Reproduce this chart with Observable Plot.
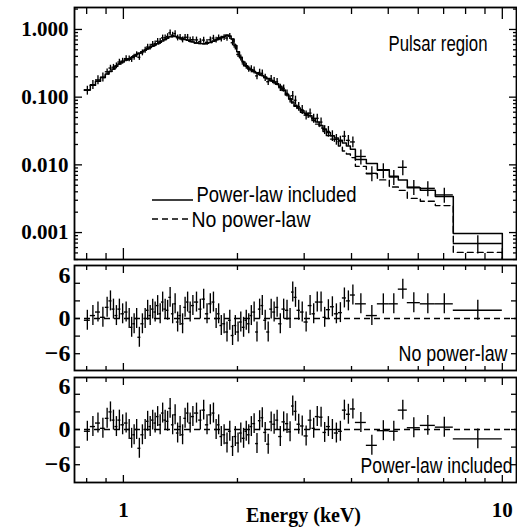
<!DOCTYPE html>
<html><head><meta charset="utf-8">
<script src="https://cdn.jsdelivr.net/npm/d3@7"></script>
<script src="https://cdn.jsdelivr.net/npm/@observablehq/plot@0.6"></script>
<style>
body{margin:0;background:#fff;}
#chart{position:relative;width:517px;height:532px;overflow:hidden;background:#fff;}
#chart svg{position:absolute;left:0;overflow:visible;background:transparent;}
</style></head><body><div id="chart"></div>
<script>
// ---- data ----
const binEdges = [
  0.789, 0.818, 0.844, 0.870, 0.896, 0.916, 0.933, 0.950, 0.967, 0.985,
  1.006, 1.028, 1.044, 1.059, 1.076, 1.092, 1.112, 1.133, 1.150, 1.168,
  1.186, 1.204, 1.222, 1.241, 1.260, 1.279, 1.299, 1.318, 1.339, 1.359,
  1.380, 1.401, 1.422, 1.444, 1.466, 1.489, 1.512, 1.539, 1.580, 1.612,
  1.646, 1.679, 1.713, 1.744, 1.770, 1.798, 1.828, 1.861, 1.893, 1.925,
  1.958, 1.991, 2.024, 2.058, 2.094, 2.126, 2.158, 2.194, 2.233, 2.271,
  2.306, 2.346, 2.389, 2.433, 2.477, 2.522, 2.569, 2.621, 2.676, 2.730,
  2.777, 2.820, 2.872, 2.932, 2.998, 3.074, 3.146, 3.211, 3.286, 3.363,
  3.433, 3.518, 3.604, 3.693, 3.784, 3.877, 3.972, 4.095, 4.377, 4.680,
  5.032, 5.315, 5.614, 6.076, 6.656, 7.424, 10.0
];
const flux = [
  0.126, 0.153, 0.180, 0.197, 0.237, 0.269, 0.277, 0.291, 0.330, 0.341,
  0.371, 0.370, 0.362, 0.390, 0.425, 0.388, 0.453, 0.495, 0.549, 0.551,
  0.601, 0.616, 0.669, 0.666, 0.751, 0.755, 0.787, 0.892, 0.826, 0.869,
  0.752, 0.765, 0.704, 0.764, 0.767, 0.699, 0.707, 0.701, 0.660, 0.696,
  0.645, 0.704, 0.745, 0.700, 0.753, 0.724, 0.762, 0.745, 0.790, 0.636,
  0.552, 0.427, 0.381, 0.310, 0.287, 0.260, 0.260, 0.250, 0.206, 0.231,
  0.225, 0.194, 0.169, 0.187, 0.174, 0.168, 0.138, 0.135, 0.114, 0.0935,
  0.105, 0.090, 0.0727, 0.0653, 0.0542, 0.0581, 0.0486, 0.0487, 0.0428, 0.0330,
  0.0312, 0.0270, 0.0238, 0.0224, 0.0265, 0.0230, 0.0218, 0.0133, 0.0075, 0.0083,
  0.0066, 0.0092, 0.0047, 0.0045, 0.0036, 0.00069
];
const fluxRelErr = [
  0.15, 0.15, 0.15, 0.15, 0.10, 0.10, 0.10, 0.10, 0.10, 0.10,
  0.10, 0.10, 0.10, 0.10, 0.10, 0.10, 0.10, 0.10, 0.10, 0.10,
  0.10, 0.10, 0.10, 0.10, 0.10, 0.10, 0.10, 0.10, 0.10, 0.10,
  0.10, 0.10, 0.10, 0.10, 0.10, 0.10, 0.10, 0.10, 0.10, 0.10,
  0.10, 0.10, 0.10, 0.10, 0.10, 0.10, 0.10, 0.10, 0.10, 0.10,
  0.10, 0.10, 0.10, 0.10, 0.10, 0.10, 0.12, 0.12, 0.12, 0.12,
  0.12, 0.12, 0.12, 0.12, 0.12, 0.12, 0.12, 0.12, 0.12, 0.12,
  0.15, 0.15, 0.15, 0.15, 0.15, 0.15, 0.15, 0.15, 0.15, 0.15,
  0.18, 0.18, 0.18, 0.18, 0.18, 0.18, 0.18, 0.25, 0.25, 0.25,
  0.25, 0.25, 0.25, 0.25, 0.25, 0.30
];
const modelPL = [
  0.128, 0.150, 0.172, 0.195, 0.220, 0.240, 0.260, 0.285, 0.310, 0.330,
  0.355, 0.370, 0.385, 0.405, 0.425, 0.445, 0.470, 0.495, 0.520, 0.540,
  0.565, 0.590, 0.615, 0.645, 0.675, 0.710, 0.745, 0.780, 0.800, 0.790,
  0.770, 0.750, 0.730, 0.710, 0.690, 0.670, 0.650, 0.630, 0.620, 0.615,
  0.625, 0.640, 0.670, 0.700, 0.730, 0.760, 0.790, 0.820, 0.800, 0.720,
  0.580, 0.470, 0.390, 0.330, 0.290, 0.270, 0.255, 0.240, 0.228, 0.218,
  0.208, 0.198, 0.188, 0.178, 0.168, 0.158, 0.145, 0.128, 0.110, 0.095,
  0.085, 0.076, 0.069, 0.063, 0.058, 0.053, 0.048, 0.043, 0.038, 0.034,
  0.030, 0.027, 0.025, 0.023, 0.021, 0.019, 0.017, 0.0120, 0.0105, 0.0085,
  0.0068, 0.0060, 0.0046, 0.0042, 0.0034, 0.00097
];
const modelNoPL = [
  0.128, 0.150, 0.172, 0.195, 0.220, 0.240, 0.260, 0.285, 0.310, 0.330,
  0.355, 0.370, 0.385, 0.405, 0.425, 0.445, 0.470, 0.495, 0.520, 0.540,
  0.565, 0.590, 0.615, 0.645, 0.675, 0.710, 0.745, 0.780, 0.800, 0.790,
  0.770, 0.750, 0.730, 0.710, 0.690, 0.670, 0.650, 0.630, 0.620, 0.615,
  0.625, 0.640, 0.670, 0.700, 0.730, 0.760, 0.790, 0.820, 0.800, 0.720,
  0.580, 0.470, 0.390, 0.330, 0.290, 0.270, 0.253, 0.238, 0.226, 0.216,
  0.206, 0.195, 0.185, 0.175, 0.165, 0.155, 0.142, 0.125, 0.107, 0.092,
  0.082, 0.073, 0.066, 0.060, 0.055, 0.050, 0.045, 0.040, 0.035, 0.031,
  0.027, 0.024, 0.022, 0.019, 0.016, 0.0145, 0.0128, 0.0095, 0.0074, 0.0060,
  0.0047, 0.0042, 0.0032, 0.0029, 0.0025, 0.00051
];
const residNoPL = [
  -0.3, 0.5, 1.1, 0.2, 1.9, 3.0, 1.6, 0.5, 1.6, 0.8,
  1.1, 0.0, -1.5, -0.9, 0.0, -3.2, -0.9, 0.0, 1.4, 0.5,
  1.6, 1.1, 2.2, 0.8, 2.8, 1.6, 1.4, 3.6, 0.8, 2.5,
  -0.6, 0.5, -0.9, 1.9, 2.8, 1.1, 2.2, 2.8, 1.6, 3.3,
  0.8, 2.5, 2.8, 0.0, 0.8, -1.2, -0.9, -2.3, -0.3, -2.9,
  -1.2, -2.3, -0.6, -1.5, -0.3, -0.9, 0.5, 1.1, -2.3, 1.6,
  2.2, -0.3, -2.3, 1.6, 1.1, 1.9, -0.9, 1.6, 1.4, 0.0,
  4.5, 3.6, 1.4, 1.1, -0.6, 2.2, 0.8, 2.8, 2.8, 0.2,
  1.5, 2.0, 0.8, 1.0, 3.5, 3.0, 4.0, 2.5, 0.5, 2.5,
  2.5, 5.0, 2.7, 2.5, 2.5, 1.4
];
const residPL = [
  -0.3, 0.5, 1.1, 0.2, 1.9, 3.0, 1.6, 0.5, 1.6, 0.8,
  1.1, 0.0, -1.5, -0.9, 0.0, -3.2, -0.9, 0.0, 1.4, 0.5,
  1.6, 1.1, 2.2, 0.8, 2.8, 1.6, 1.4, 3.6, 0.8, 2.5,
  -0.6, 0.5, -0.9, 1.9, 2.8, 1.1, 2.2, 2.8, 1.6, 3.3,
  0.8, 2.5, 2.8, 0.0, 0.8, -1.2, -0.9, -2.3, -0.3, -2.9,
  -1.2, -2.3, -0.6, -1.5, -0.3, -0.9, 0.5, 1.0, -2.4, 1.5,
  2.0, -0.5, -2.5, 1.3, 0.9, 1.6, -1.2, 1.3, 1.0, -0.4,
  4.0, 3.1, 0.9, 0.6, -1.1, 1.6, 0.2, 2.2, 2.1, -0.5,
  0.5, 0.0, -0.6, -0.3, 3.3, 2.6, 3.5, 1.2, -2.7, -0.2,
  -0.3, 3.3, 0.3, 0.7, 0.4, -1.6
];
const residErr = 1.7;
const fluxTicks = [1, 0.1, 0.01, 0.001];
const residTicks = [6, 3, 0, -3, -6];
const residLabels = [0, -6];
const residTopLabel = [6];
const energyTicks = [1, 10];
const panelTitle = "Pulsar region";
const legendPL = "Power-law included";
const legendNoPL = "No power-law";
const xTitle = "Energy (keV)";

// ---- build ----
const bins = flux.map((v, i) => {
  const lo = binEdges[i], hi = binEdges[i + 1];
  return {lo, hi, e: Math.sqrt(lo * hi), flux: v, rel: fluxRelErr[i],
          rNo: residNoPL[i], rPl: residPL[i]};
});
function steps(values) {
  const pts = bins.map((b, i) => ({x: b.lo, y: values[i]}));
  const last = bins[bins.length - 1];
  pts.push({x: last.hi, y: values[values.length - 1]});
  pts.push({x: last.hi, y: 1e-7});
  return pts;
}
const isPow10 = v => Math.abs(Math.log10(v) - Math.round(Math.log10(v))) < 1e-6;
const xDomain = [0.743, 10.9];
const fluxDomain = [0.0004, 2.11];
const eMinor = d3.scaleLog().domain(xDomain).ticks().filter(v => !isPow10(v));
const fluxMinor = d3.scaleLog().domain(fluxDomain).ticks().filter(v => !isPow10(v));

const serif = "'Liberation Serif', 'Times New Roman', serif";
const sans = "'Liberation Sans Narrow', 'Liberation Sans', Arial, sans-serif";
const W = 517, ML = 74, MR = 1;
const SW = 1.35;

const tx = (anchor, ticks, size) => Plot.axisX({anchor, ticks, tickSize: -size, tickFormat: () => "", label: null, strokeWidth: 1.3});
const ty = (anchor, ticks, size) => Plot.axisY({anchor, ticks, tickSize: -size, tickFormat: () => "", label: null, strokeWidth: 1.3});
const fmtRes = d => d < 0 ? "\u2212" + Math.abs(d) : String(d);

// condense the sans labels horizontally (the reference uses a condensed face)
function narrow(svg, widths) {
  svg.querySelectorAll("text").forEach(t => {
    const w = widths[t.textContent];
    if (!w) return;
    const natural = t.getComputedTextLength();
    if (!natural) return;
    const s = w / natural;
    const tr = t.getAttribute("transform") || "";
    t.setAttribute("transform", tr + ` scale(${s.toFixed(4)},1)`);
  });
}

const topPlot = Plot.plot({
  width: W, height: 262, marginLeft: ML, marginRight: MR, marginTop: 7, marginBottom: 3,
  x: {type: "log", domain: xDomain, axis: null},
  y: {type: "log", domain: fluxDomain, axis: null},
  marks: [
    ty("left", fluxTicks, 8), ty("right", fluxTicks, 8),
    ty("left", fluxMinor, 4), ty("right", fluxMinor, 4),
    tx("bottom", energyTicks, 11), tx("top", energyTicks, 11),
    tx("bottom", eMinor, 6), tx("top", eMinor, 6),
    Plot.axisY({anchor: "left", ticks: fluxTicks, tickSize: 0, tickPadding: 6,
      tickFormat: d3.format(".3f"), label: null, fontSize: 21, fontWeight: "bold", fontFamily: serif}),
    Plot.line(steps(modelNoPL), {x: "x", y: "y", curve: "step-after", stroke: "black",
      strokeWidth: 1.4, strokeDasharray: "6,4", clip: true}),
    Plot.line(steps(modelPL), {x: "x", y: "y", curve: "step-after", stroke: "black",
      strokeWidth: 1.5, clip: true}),
    Plot.ruleY(bins, {x1: "lo", x2: "hi", y: "flux", strokeWidth: SW}),
    Plot.ruleX(bins, {x: "e", y1: d => d.flux * (1 - d.rel), y2: d => d.flux * (1 + d.rel), strokeWidth: SW}),
    Plot.text([panelTitle], {text: d => d, frameAnchor: "top-right", dx: -29, dy: 43,
      textAnchor: "end", lineAnchor: "bottom", fontSize: 22, fontFamily: sans}),
    Plot.text([legendPL], {text: d => d, frameAnchor: "top-left", dx: 122, dy: 194,
      textAnchor: "start", lineAnchor: "bottom", fontSize: 22, fontFamily: sans}),
    Plot.text([legendNoPL], {text: d => d, frameAnchor: "top-left", dx: 117, dy: 219,
      textAnchor: "start", lineAnchor: "bottom", fontSize: 22, fontFamily: sans}),
    Plot.frame({strokeWidth: 1.8})
  ]
});

function residPlot(key, yDomain, marginTop, marginBottom, height, label, labelDx, extra) {
  return Plot.plot({
    width: W, height, marginLeft: ML, marginRight: MR, marginTop, marginBottom,
    x: {type: "log", domain: xDomain, axis: null},
    y: {domain: yDomain, axis: null},
    marks: [
      ty("left", residTicks, 6), ty("right", residTicks, 6),
      tx("bottom", energyTicks, 7), tx("top", energyTicks, 7),
      tx("bottom", eMinor, 4), tx("top", eMinor, 4),
      Plot.axisY({anchor: "left", ticks: residLabels, tickSize: 0, tickPadding: 4,
        tickFormat: fmtRes, label: null, fontSize: 24, fontWeight: "bold", fontFamily: serif}),
      Plot.axisY({anchor: "left", ticks: residTopLabel, tickSize: 0, tickPadding: 4, dy: -8,
        tickFormat: fmtRes, label: null, fontSize: 24, fontWeight: "bold", fontFamily: serif}),
      Plot.ruleY([0], {strokeDasharray: "6,4", strokeWidth: 1.3}),
      Plot.ruleY(bins, {x1: "lo", x2: "hi", y: key, strokeWidth: SW}),
      Plot.ruleX(bins, {x: "e", y1: d => d[key] - residErr, y2: d => d[key] + residErr, strokeWidth: SW}),
      Plot.text([label], {text: d => d, frameAnchor: "bottom-right", dx: labelDx,
        dy: -10, textAnchor: "end", lineAnchor: "bottom", fontSize: 22, fontFamily: sans}),
      ...extra,
      Plot.frame({strokeWidth: 1.8})
    ]
  });
}

const midPlot = residPlot("rNo", [-8.86, 9.03], 3, 2, 110, legendNoPL, -9, []);
const botPlot = residPlot("rPl", [-9.03, 8.86], 5, 50, 160, legendPL, -4, [
  Plot.axisX({anchor: "bottom", ticks: energyTicks, tickSize: 0, tickPadding: 20,
    tickFormat: d => String(d), label: null, fontSize: 21, fontWeight: "bold", fontFamily: serif}),
  Plot.text([xTitle], {text: d => d, frameAnchor: "bottom", dx: 8, dy: 39,
    lineAnchor: "bottom", fontSize: 20, fontWeight: "bold", fontFamily: serif})
]);

// legend swatches
const ts = d3.select(topPlot);
ts.append("line").attr("x1", 152).attr("x2", 193).attr("y1", 200).attr("y2", 200)
  .attr("stroke", "black").attr("stroke-width", 1.5);
ts.append("line").attr("x1", 152).attr("x2", 188).attr("y1", 219).attr("y2", 219)
  .attr("stroke", "black").attr("stroke-width", 1.4).attr("stroke-dasharray", "6,4");

const chart = document.getElementById("chart");
[[topPlot, 0], [midPlot, 262], [botPlot, 372]].forEach(([svg, top]) => {
  svg.style.top = top + "px";
  chart.appendChild(svg);
});

narrow(topPlot, {[panelTitle]: 99, [legendPL]: 160, [legendNoPL]: 119});
narrow(midPlot, {[legendNoPL]: 109});
narrow(botPlot, {[legendPL]: 152});
</script>
</body></html>
